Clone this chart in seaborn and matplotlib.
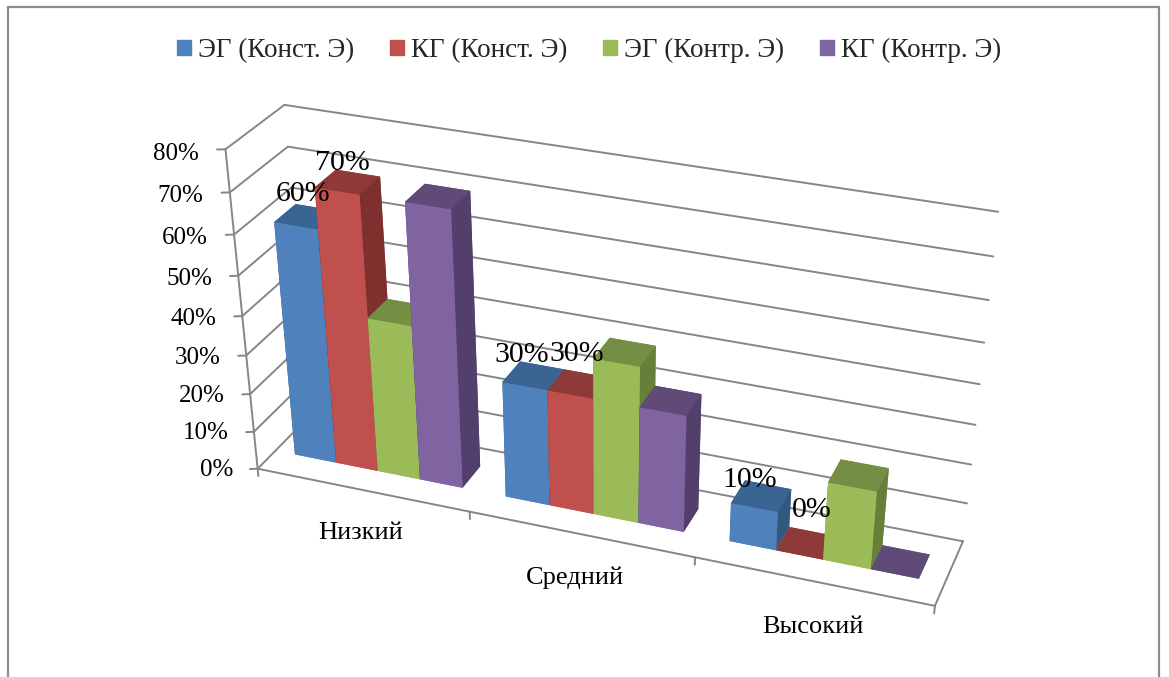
import numpy as np
import seaborn as sns
import matplotlib.pyplot as plt
from matplotlib.patches import Patch, Rectangle

categories = ["Низкий", "Средний", "Высокий"]
series = ["ЭГ (Конст. Э)", "КГ (Конст. Э)", "ЭГ (Контр. Э)", "КГ (Контр. Э)"]
eg_konst = [60, 30, 10]
kg_konst = [70, 30, 0]
eg_kontr = [40, 40, 20]
kg_kontr = [70, 30, 0]
values = [eg_konst, kg_konst, eg_kontr, kg_kontr]
z_ticks = [0, 10, 20, 30, 40, 50, 60, 70, 80]

front = ["#4F81BD", "#C0504D", "#9BBB59", "#8064A2"]
top = ["#3A6491", "#8E3A38", "#748E43", "#5F4A78"]
side = ["#33587F", "#7D302E", "#66803A", "#533F6B"]
grid = "#868686"

sns.set_theme(style="white")
plt.rcParams["font.family"] = "Liberation Serif"

fig = plt.figure(figsize=(11.69, 6.77), dpi=100)
ax = fig.add_axes([0, 0, 1, 1], projection="3d")
ax.set_axis_off()
ax.computed_zorder = False
ax.set_proj_type("ortho")  # keeps Line3D from masking points, real camera is below

# camera: fit a projection from the corners of the chart box, world -> pixels
world = np.array([(0, 0, 0), (0, 0, 80), (0, 1, 80), (3, 1, 80), (3, 1, 0), (3, 0, 0), (0, 1, 0)], float)
pixel = np.array([(258, 467), (225, 150), (285, 104), (998, 212), (963, 540), (935, 607), (310, 417)], float)
rows = []
for (x, y, z), (u, v) in zip(world / [3, 1, 80], pixel / 1000):
    rows.append([x, y, z, 1, 0, 0, 0, 0, -u * x, -u * y, -u * z, -u])
    rows.append([0, 0, 0, 0, x, y, z, 1, -v * x, -v * y, -v * z, -v])
P = np.linalg.svd(np.array(rows))[2][-1].reshape(3, 4)
if P[2, 3] < 0:
    P = -P
P = np.diag([1000, 1000, 1]) @ P @ np.diag([1 / 3, 1, 1 / 80, 1])
cam = np.vstack([P[0], P[1], [0, 0, 0, -1], P[2]])
ax.get_proj = lambda: cam
ax.apply_aspect = lambda position=None: None

# walls
for z in z_ticks:
    ax.plot([0, 0], [0, 1], [z, z], color=grid, lw=1.4, zorder=1)
    ax.plot([0, 3], [1, 1], [z, z], color=grid, lw=1.4, zorder=1)
    ax.plot([-0.03, 0], [-0.028, 0], [z, z], color=grid, lw=1.4, zorder=1)
    ax.text(-0.095, -0.09, z - 0.8 * z / 80, f"{z}%", ha="right", va="center", fontsize=18,
            color="black", zorder=50)
ax.plot([0, 0], [0, 0], [0, 80], color=grid, lw=1.4, zorder=1)
ax.plot([0, 3], [0, 0], [0, 0], color=grid, lw=1.4, zorder=1)
ax.plot([3, 3], [0, 1], [0, 0], color=grid, lw=1.4, zorder=1)
for i in range(4):
    ax.plot([i, i], [0, 0], [0, -2], color=grid, lw=1.4, zorder=1)

# bars, left to right
bar_w = 0.2
margin = 0.095
depth0, depth = 0.33, 0.38
for c in range(len(categories)):
    for s in range(len(series)):
        colors = [front[s], top[s], front[s], top[s], side[s], side[s]]
        ax.bar3d(c + margin + s * bar_w, depth0, 0, bar_w, depth, values[s][c],
                 color=colors, shade=False, linewidth=0, zorder=10 + c * 4 + s)

# value labels only on the first two series, as in the original
label_dx = [[-0.06, -0.09, -0.08], [-0.065, -0.045, -0.005]]
label_dz = [[2.8, 2, 0.6], [2, 4.5, 5.7]]
for c in range(len(categories)):
    for s in range(2):
        ax.text(c + margin + (s + 0.5) * bar_w + label_dx[s][c], 0.7, values[s][c] + label_dz[s][c],
                f"{values[s][c]}%", ha="center", va="center", fontsize=21.5, color="black", zorder=60)

name_x = [0.48, 0.475, 0.51]
for c, name in enumerate(categories):
    ax.text(c + name_x[c], 0, -12, name, ha="center", va="center", fontsize=19, color="black", zorder=50)

ax.viewLim.intervalx = (0, 1169)
ax.viewLim.intervaly = (677, 0)

handles = [Patch(color=col) for col in front]
fig.legend(handles, series, ncol=4, loc="upper center", bbox_to_anchor=(0.504, 0.98), frameon=False,
           fontsize=19.5, handlelength=0.52, handleheight=0.52, handletextpad=0.25, columnspacing=1.33)

# chart frame
fig.add_artist(Rectangle((8 / 1169, -0.01), 1151 / 1169, 1.0, fill=False, edgecolor="#8c8c8c", lw=1.6,
                         transform=fig.transFigure))

fig.savefig("out.png", dpi=100)
